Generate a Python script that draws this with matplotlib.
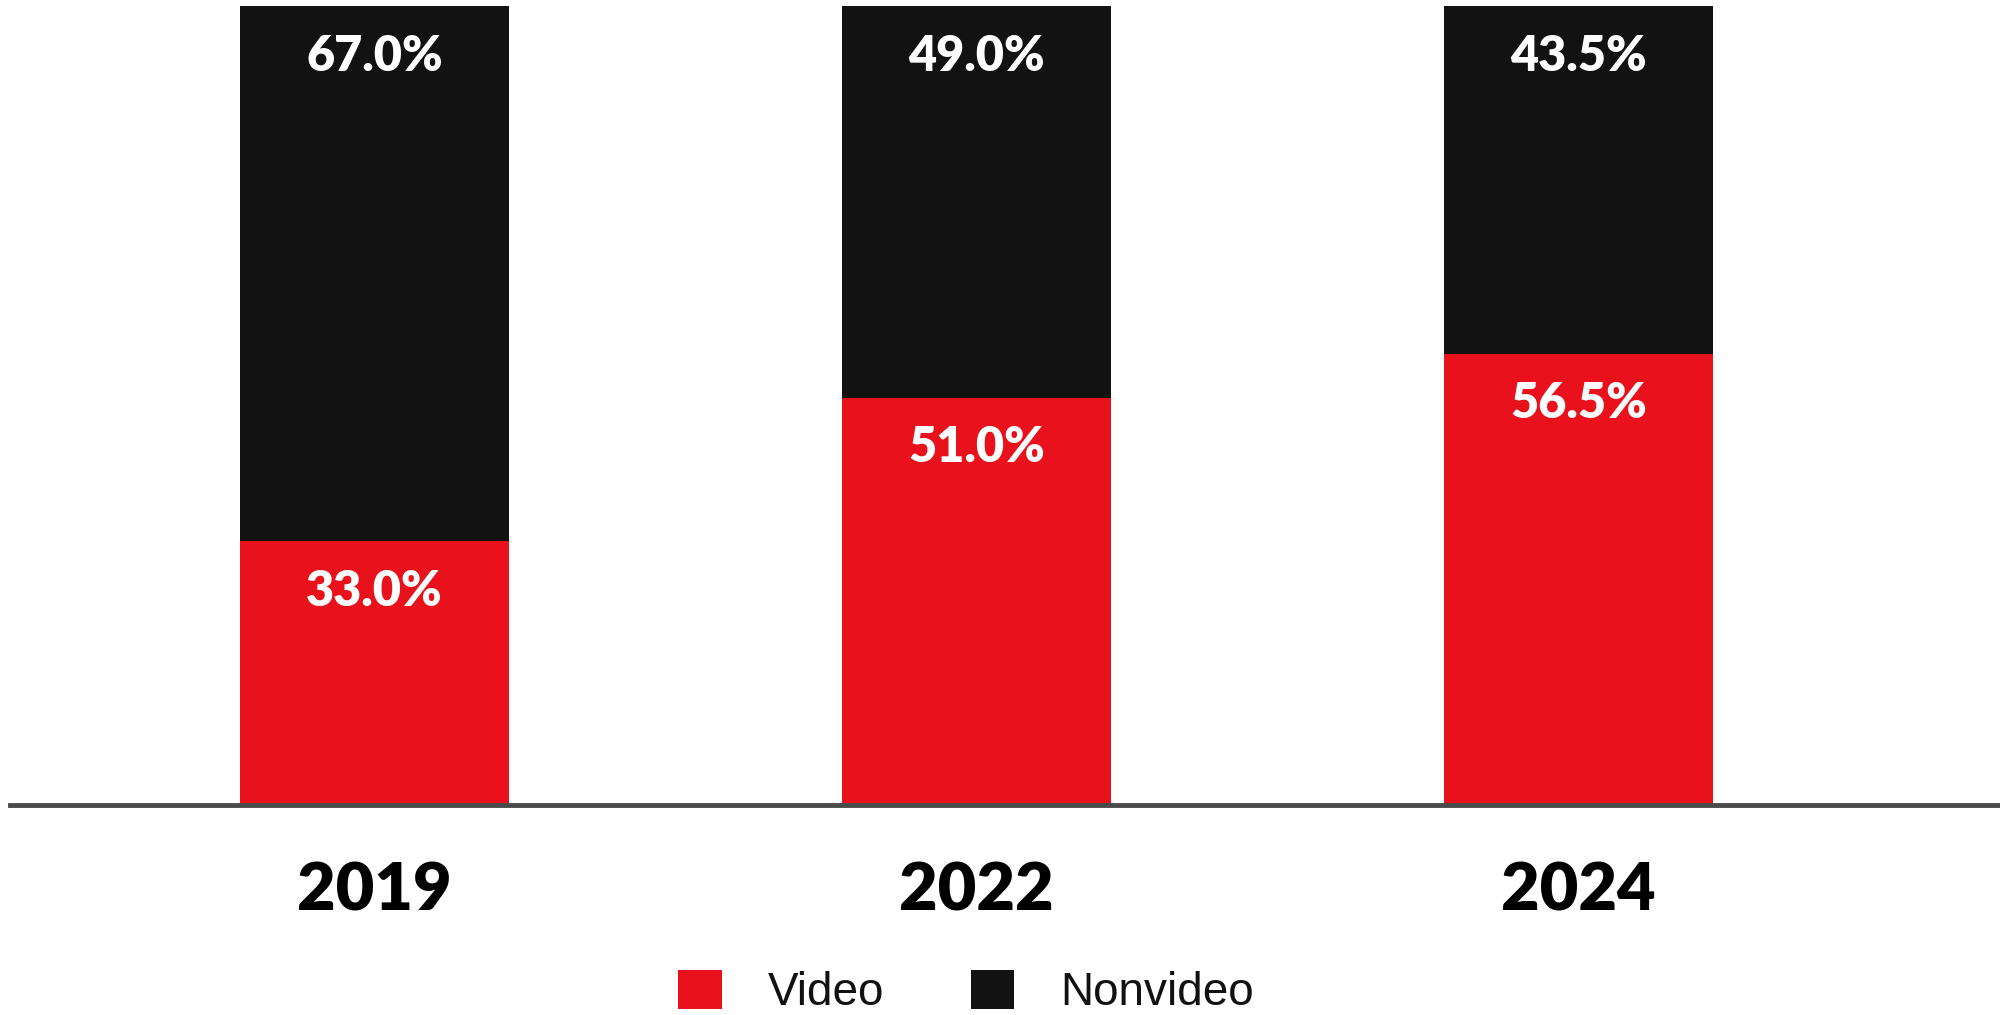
import matplotlib
matplotlib.use("Agg")
import matplotlib.pyplot as plt
from matplotlib.patches import Patch

# Share of time spent: video vs. nonvideo
years = ["2019", "2022", "2024"]
video = [33.0, 51.0, 56.5]
nonvideo = [67.0, 49.0, 43.5]
series_names = ["Video", "Nonvideo"]

RED = "#E8111C"
BLACK = "#121212"
AXIS = "#4a4a4a"

fig = plt.figure(figsize=(20, 10.15), dpi=100)
ax = fig.add_axes([10 / 2000, 210 / 1015, 1 - 10 / 2000, 799 / 1015])

x = list(range(len(years)))
width = 0.447
ax.bar(x, video, width=width, color=RED, linewidth=0)
ax.bar(x, nonvideo, width=width, bottom=video, color=BLACK, linewidth=0)

# value labels sit just inside the top of each segment
label_font = dict(family=["Lato", "DejaVu Sans"], fontweight="heavy",
                  fontsize=35, color="white", ha="center", va="center")
offset = 6.3
for xi, v, nv in zip(x, video, nonvideo):
    ax.text(xi, v - offset, f"{v:.1f}%", **label_font)
    ax.text(xi, v + nv - offset, f"{nv:.1f}%", **label_font)

ax.set_xlim(-0.6055, 2.700)
ax.set_ylim(0, 100)
for side in ["left", "right", "top"]:
    ax.spines[side].set_visible(False)
ax.spines["bottom"].set_color(AXIS)
ax.spines["bottom"].set_linewidth(3.5)
ax.set_yticks([])
ax.set_xticks(x)
ax.set_xticklabels(years, family=["Lato", "DejaVu Sans"], fontweight="heavy",
                   fontsize=48, color="black")
ax.tick_params(axis="x", length=0, pad=40)

handles = [Patch(facecolor=RED, edgecolor="none"),
           Patch(facecolor=BLACK, edgecolor="none")]
fig.legend(handles, series_names, loc="center", bbox_to_anchor=(0.483, 0.022),
           ncol=2, frameon=False, borderpad=0, handlelength=0.95,
           handleheight=0.95, handletextpad=1.0, columnspacing=1.9,
           prop=dict(family=["Liberation Sans"], size=33),
           labelcolor="#111111")

fig.savefig("out.png", dpi=100, facecolor="white")
